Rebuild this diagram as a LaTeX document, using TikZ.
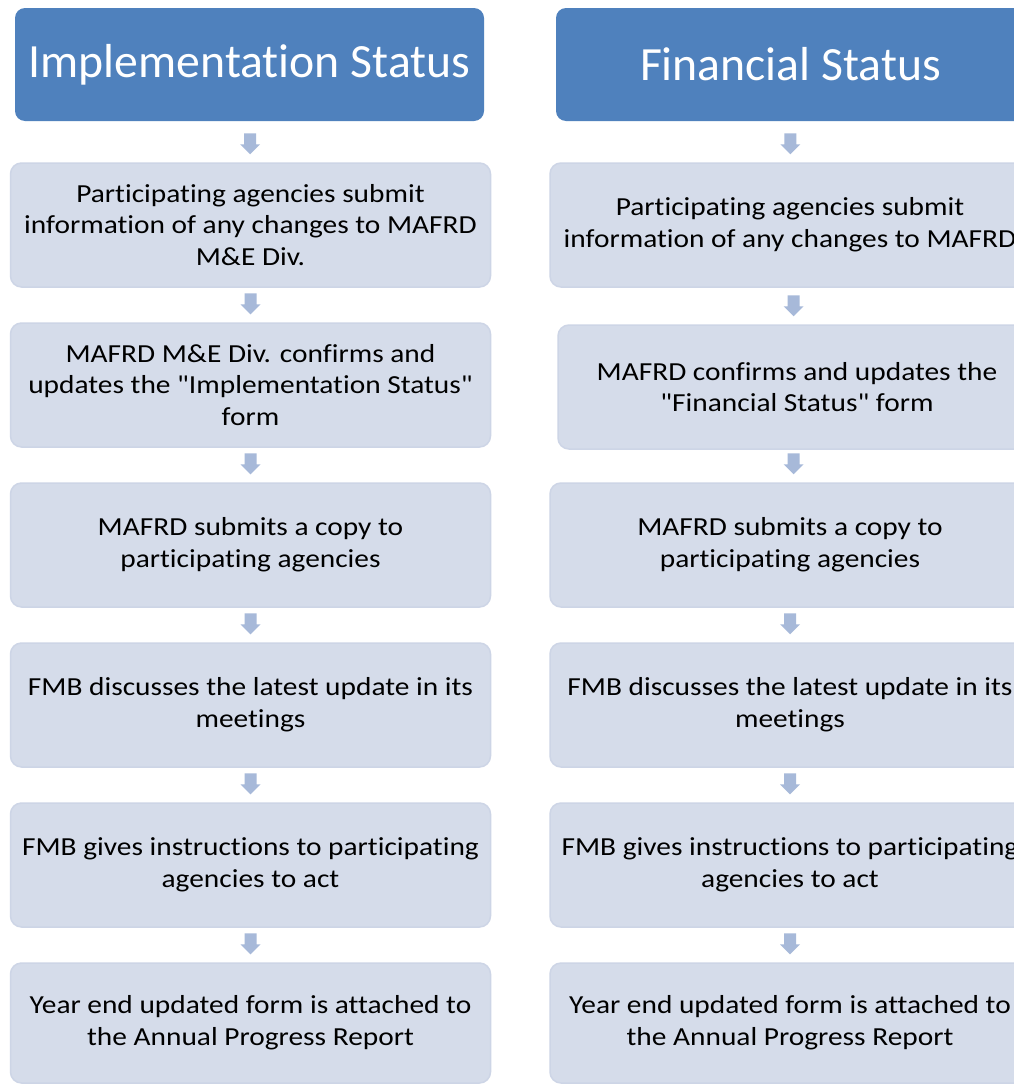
\documentclass[tikz,border=0pt]{standalone}
\usepackage{fontspec}
\setmainfont{Carlito}
\newfontfamily\boxfont[FakeStretch=1.13,Ligatures=NoCommon]{Carlito}
\newfontfamily\headfont[Ligatures=NoCommon]{Carlito}
\usetikzlibrary{calc}
\definecolor{headblue}{HTML}{4F81BD}
\definecolor{boxfill}{HTML}{D5DCEA}
\definecolor{boxedge}{HTML}{CDD5E6}
\definecolor{arrowfill}{HTML}{A7B9D9}
\newcommand{\qt}{\symbol{34}}
\tikzset{
  header/.style={rectangle, rounded corners=10pt, fill=headblue, draw=none,
    text=white, minimum width=469pt, minimum height=113pt, inner sep=0pt,
    font=\headfont\fontsize{47.7}{58}\selectfont, align=center},
  stepbox/.style={rectangle, rounded corners=11pt, fill=boxfill, draw=boxedge,
    line width=1.5pt, text=black, minimum width=480pt, minimum height=124pt,
    inner sep=0pt, font=\boxfont\fontsize{26}{31.7}\selectfont, align=center},
  blockdown/.pic={
    \fill[arrowfill] (-6,-21) -- (6,-21) -- (6,-10) -- (10,-10) -- (0,0)
      -- (-10,-10) -- (-6,-10) -- cycle;
  }
}
\begin{document}
\begin{tikzpicture}[x=1pt,y=-1pt]
\useasboundingbox (0,0) rectangle (1014,1084);
\clip (0,0) rectangle (1014,1084);
\fill[white] (0,0) rectangle (1014,1084);

% Left column
\node[header] (lh) at (249.5,64.5) {Implementation Status};
\node[stepbox] (l1) at (250.5,225) {Participating agencies submit\\information of any changes to MAFRD\\M\&E Div.};
\node[stepbox] (l2) at (250.5,385) {MAFRD M\&E Div. confirms and\\updates the \qt Implementation Status\qt\\form};
\node[stepbox] (l3) at (250.5,545) {MAFRD submits a copy to\\participating agencies};
\node[stepbox] (l4) at (250.5,705) {FMB discusses the latest update in its\\meetings};
\node[stepbox] (l5) at (250.5,865) {FMB gives instructions to participating\\agencies to act};
\node[stepbox, minimum height=120pt] (l6) at (250.5,1023) {Year end updated form is attached to\\the Annual Progress Report};

% Right column
\node[header] (rh) at (790.5,64.5) {Financial Status};
\node[stepbox] (r1) at (790,225) {Participating agencies submit\\information of any changes to MAFRD};
\node[stepbox, minimum width=478pt] (r2) at (797,387) {MAFRD confirms and updates the\\\qt Financial Status\qt{} form};
\node[stepbox] (r3) at (790,545) {MAFRD submits a copy to\\participating agencies};
\node[stepbox] (r4) at (790,705) {FMB discusses the latest update in its\\meetings};
\node[stepbox] (r5) at (790,865) {FMB gives instructions to participating\\agencies to act};
\node[stepbox, minimum height=120pt] (r6) at (790,1023) {Year end updated form is attached to\\the Annual Progress Report};

% Arrows (tip 8pt above the next box, centred between the two boxes)
\foreach \a/\b in {lh/l1,l1/l2,l2/l3,l3/l4,l4/l5,l5/l6,rh/r1,r1/r2,r2/r3,r3/r4,r4/r5,r5/r6}{
  \coordinate (m-\a) at ($(\a.south)!0.5!(\b.north)$);
  \pic at ($(\b.north -| m-\a)+(0,-8)$) {blockdown};
}
\end{tikzpicture}
\end{document}
